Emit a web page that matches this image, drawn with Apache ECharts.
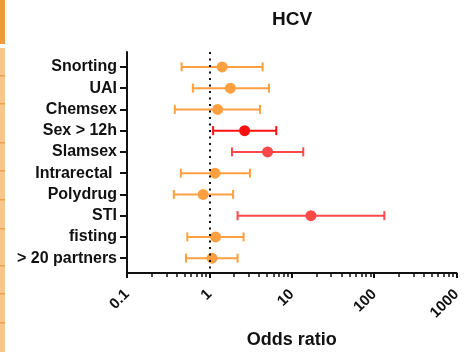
<!DOCTYPE html>
<html><head><meta charset="utf-8">
<script src="https://cdn.jsdelivr.net/npm/echarts@6/dist/echarts.min.js"></script>
<style>html,body{margin:0;padding:0;background:#fff}#c{width:466px;height:352px}</style>
</head><body><div id="c"></div><script>
const categories = ['Snorting','UAI','Chemsex','Sex > 12h','Slamsex','Intrarectal ','Polydrug','STI','fisting','> 20 partners'];
const oddsRatio = [1.43, 1.80, 1.26, 2.68, 5.09, 1.17, 0.84, 17.1, 1.19, 1.08];
const ciLower   = [0.46, 0.63, 0.38, 1.11, 1.88, 0.45, 0.37, 2.20, 0.54, 0.52];
const ciUpper   = [4.43, 5.29, 4.12, 6.49, 13.8, 3.11, 1.94, 133, 2.60, 2.20];
const pointColors = ['#ffa040','#ffa040','#ffa040','#ff1010','#ff4848','#ffa040','#ffa040','#ff4848','#ffa040','#ffa040'];
const xTickLabels = ['0.1','1','10','100','1000'];
const minorTickValues = [0.2,0.3,0.4,0.5,0.6,0.7,0.8,0.9,2,3,4,5,6,7,8,9,20,30,40,50,60,70,80,90,200,300,400,500,600,700,800,900];

const FONT = 'Liberation Sans, Arial, sans-serif';
const chart = echarts.init(document.getElementById('c'), null, {renderer:'canvas'});

const stripLines = [75,103,142,170,199,228,265,293,322];
const graphics = [
  {type:'rect', shape:{x:0,y:0,width:5,height:44}, style:{fill:'#ec9a3c'}},
  {type:'rect', shape:{x:0,y:48,width:5,height:304}, style:{fill:'#f6c592'}}
].concat(stripLines.map(y => ({type:'rect', shape:{x:0,y:y,width:5,height:1.5}, style:{fill:'#eaa155'}})));

chart.setOption({
  animation:false,
  backgroundColor:'#fff',
  title:{text:'HCV', left:267, top:5, textStyle:{fontFamily:FONT, fontSize:19, fontWeight:'bold', color:'#111'}},
  graphic: graphics,
  grid:{left:127, right:9.5, top:52, bottom:79, containLabel:false, outerBoundsMode:'none'},
  xAxis:[{
    type:'log', logBase:10, min:0.1, max:1000, position:'bottom',
    axisLine:{show:true, onZero:false, lineStyle:{color:'#111', width:2}},
    axisTick:{show:true, length:5, lineStyle:{color:'#111', width:2}},
    splitLine:{show:false},
    minorTick:{show:false},
    axisLabel:{rotate:45, margin:19, fontFamily:FONT, fontSize:15, fontWeight:'bold', color:'#111',
      formatter:(v)=>{const i=Math.round(Math.log10(v))+1; return xTickLabels[i]!==undefined?xTickLabels[i]:'';}},
    name:'Odds ratio', nameLocation:'middle', nameGap:58,
    nameTextStyle:{fontFamily:FONT, fontSize:18, fontWeight:'bold', color:'#111'}
  },{
    type:'value', min:-1, max:3, position:'bottom',
    axisLine:{show:false, onZero:false},
    axisTick:{show:true, length:4, lineStyle:{color:'#111', width:1.5}, customValues:minorTickValues.map(v=>Math.log10(v))},
    axisLabel:{show:false},
    splitLine:{show:false}
  }],
  yAxis:{
    type:'value', inverse:true, min:-0.7, max:9.7, position:'left',
    axisLine:{show:true, onZero:false, lineStyle:{color:'#111', width:2}},
    axisTick:{show:true, length:7, lineStyle:{color:'#111', width:2}, customValues:categories.map((c,i)=>i)},
    splitLine:{show:false},
    axisLabel:{margin:10, fontFamily:FONT, fontSize:16, fontWeight:'bold', color:'#111',
      customValues:categories.map((c,i)=>i), formatter:(v)=>categories[Math.round(v)]}
  },
  series:[{
    type:'custom', xAxisIndex:0, yAxisIndex:0,
    data: categories.map((c,i)=>[ciLower[i], ciUpper[i], i]),
    encode:{x:[0,1], y:2},
    renderItem:(params, api)=>{
      const y = api.value(2);
      const lo = api.coord([api.value(0), y]);
      const hi = api.coord([api.value(1), y]);
      const col = pointColors[params.dataIndex];
      const h = 4.5;
      const st = {stroke:col, lineWidth:2};
      return {type:'group', children:[
        {type:'line', shape:{x1:lo[0],y1:lo[1],x2:hi[0],y2:hi[1]}, style:st},
        {type:'line', shape:{x1:lo[0],y1:lo[1]-h,x2:lo[0],y2:lo[1]+h}, style:st},
        {type:'line', shape:{x1:hi[0],y1:hi[1]-h,x2:hi[0],y2:hi[1]+h}, style:st}
      ]};
    },
    markLine:{
      silent:true, symbol:'none', label:{show:false},
      lineStyle:{color:'#111', type:[2,4.5], width:2},
      data:[{xAxis:1}]
    },
    z:2
  },{
    type:'scatter', xAxisIndex:0, yAxisIndex:0,
    symbol:'circle', symbolSize:11,
    data: categories.map((c,i)=>[oddsRatio[i], i]),
    itemStyle:{color:(p)=>pointColors[p.dataIndex], opacity:1},
    z:3
  }]
});
</script></body></html>
